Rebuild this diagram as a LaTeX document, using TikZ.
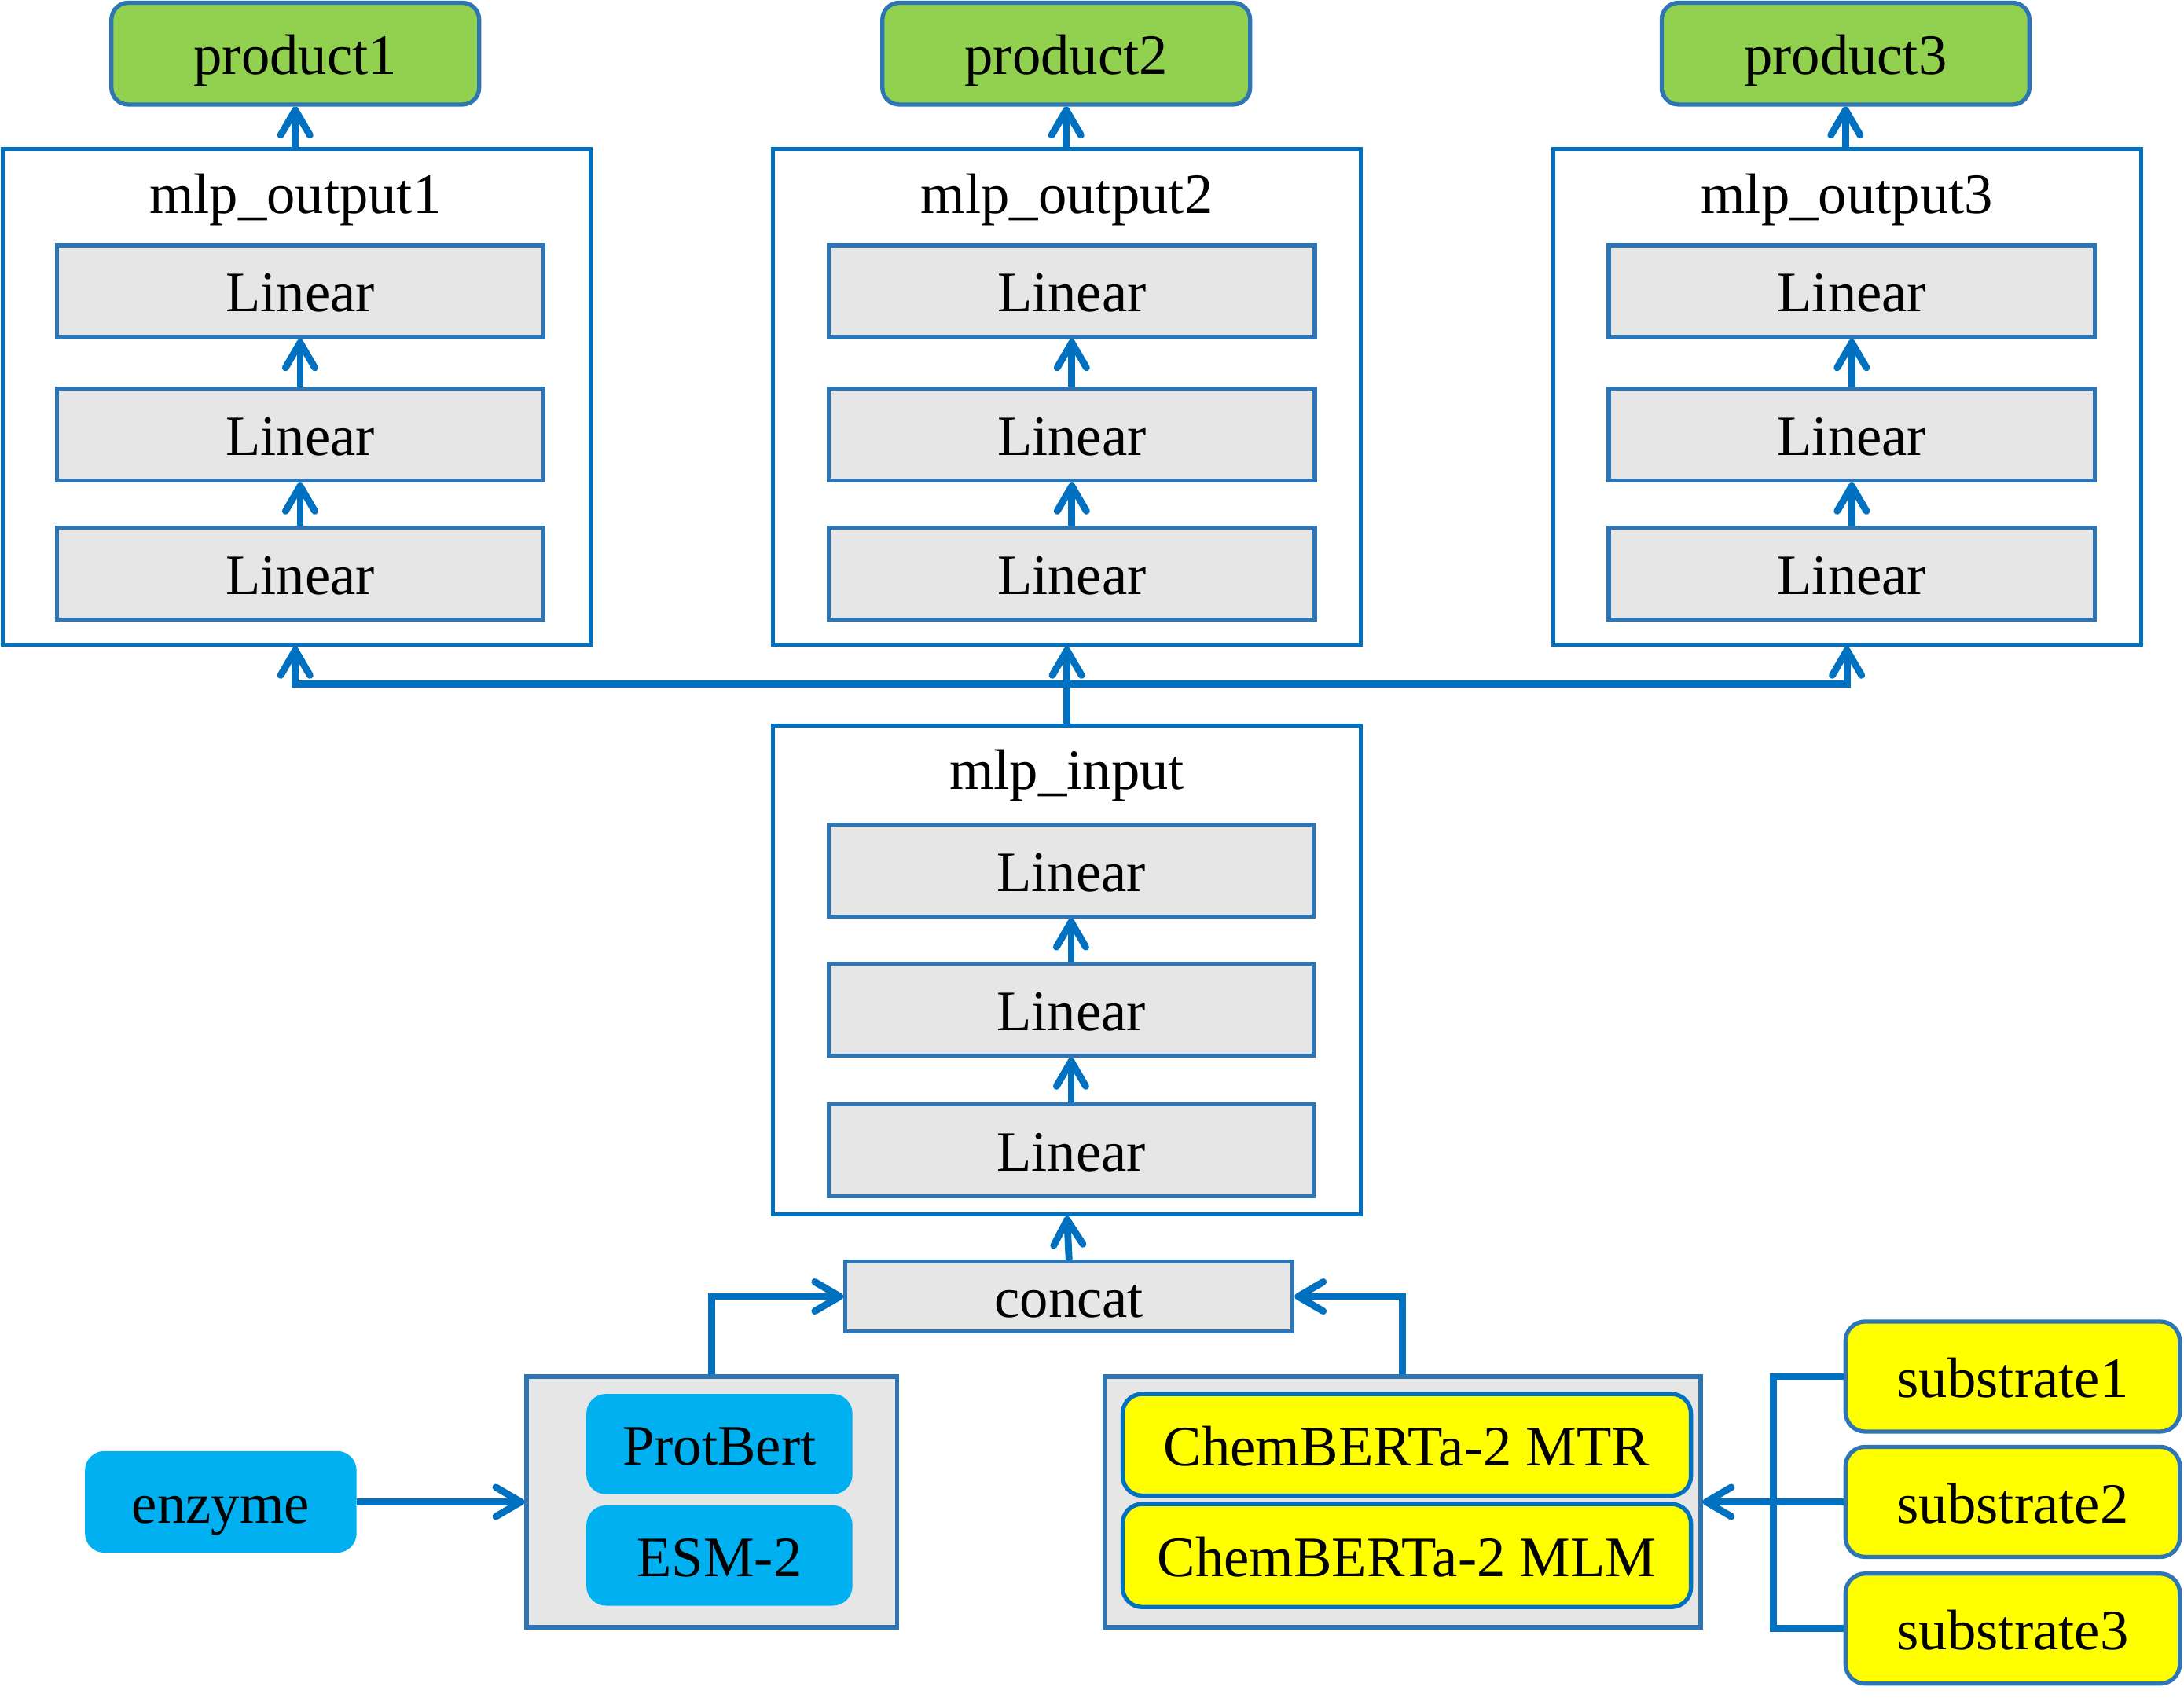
\documentclass[tikz,border=0pt]{standalone}
\usepackage{fontspec}
\setmainfont{Liberation Serif}
\usetikzlibrary{arrows.meta,calc}
\definecolor{cblue}{HTML}{0070C0}
\definecolor{bblue}{HTML}{2E75B6}
\definecolor{lgray}{HTML}{E6E6E6}
\definecolor{lgreen}{HTML}{92D050}
\definecolor{cyanb}{HTML}{00B0F0}
\definecolor{yel}{HTML}{FFFF00}
\begin{document}
\begin{tikzpicture}[x=0.5pt,y=-0.5pt,
  base/.style={inner sep=0pt, font=\fontsize{20.5}{24}\selectfont, text height=15pt, text depth=0pt, anchor=center},
  prod/.style={base, draw=bblue, line width=1.5pt, fill=lgreen, rounded corners=6pt, minimum width=132pt, minimum height=36.5pt},
  mlpbox/.style={base, draw=cblue, line width=1.4pt, fill=white, minimum width=211pt, minimum height=178pt},
  ttl/.style={base},
  lin/.style={base, draw=bblue, line width=1.5pt, fill=lgray, minimum width=174.5pt, minimum height=33pt},
  grp/.style={base, draw=bblue, line width=1.5pt, fill=lgray},
  cyb/.style={base, fill=cyanb, rounded corners=7pt},
  yb/.style={base, fill=yel, rounded corners=7pt, line width=1.5pt},
  conn/.style={draw=cblue, line width=2.5pt},
  arr/.style={conn, -{Straight Barb[length=9pt,width=10.5pt,round]}},
  darr/.style={conn, {Straight Barb[length=9pt,width=10.5pt,round]}-{Straight Barb[length=9pt,width=10.5pt,round]}}
]
\useasboundingbox (0,0) rectangle (1568,1219);

% products
\node[prod] (p1) at (212,38.5) {product1};
\node[prod] (p2) at (765.5,38.5) {product2};
\node[prod] (p3) at (1325,38.5) {product3};

% output MLPs
\node[mlpbox] (mo1) at (213,285) {};
\node[mlpbox] (mo2) at (766,285) {};
\node[mlpbox] (mo3) at (1326,285) {};
\node[ttl] (t1) at (212,138) {mlp\_output1};
\node[ttl] (t2) at (766,138) {mlp\_output2};
\node[ttl] (t3) at (1326,138) {mlp\_output3};

\node[lin] (a1) at (215.5,209) {Linear};
\node[lin] (a2) at (215.5,312) {Linear};
\node[lin] (a3) at (215.5,412) {Linear};
\node[lin] (b1) at (769.5,209) {Linear};
\node[lin] (b2) at (769.5,312) {Linear};
\node[lin] (b3) at (769.5,412) {Linear};
\node[lin] (c1) at (1329.5,209) {Linear};
\node[lin] (c2) at (1329.5,312) {Linear};
\node[lin] (c3) at (1329.5,412) {Linear};

% input MLP
\node[mlpbox, minimum height=175.5pt] (mi) at (766,696.5) {};
\node[ttl] (ti) at (766,552) {mlp\_input};
\node[lin, minimum width=174pt] (d1) at (769,625) {Linear};
\node[lin, minimum width=174pt] (d2) at (769,725) {Linear};
\node[lin, minimum width=174pt] (d3) at (769,826) {Linear};

% concat
\node[lin, minimum width=160.5pt, minimum height=25pt] (cc) at (767.5,931) {concat};

% left group
\node[grp, minimum width=133pt, minimum height=90pt] (lg) at (511,1078.5) {};
\node[cyb, minimum width=95.5pt, minimum height=36pt] (pb) at (516.5,1037) {ProtBert};
\node[cyb, minimum width=95.5pt, minimum height=36pt] (esm) at (516.5,1117) {ESM-2};
\node[cyb, minimum width=97.5pt, minimum height=36.5pt] (enz) at (158.5,1078.5) {enzyme};

% right group
\node[grp, minimum width=214pt, minimum height=90pt] (rg) at (1007,1078.5) {};
\node[yb, draw=cblue, minimum width=204pt, minimum height=36.5pt] (mtr) at (1010,1037.5) {ChemBERTa-2 MTR};
\node[yb, draw=cblue, minimum width=204pt, minimum height=37pt] (mlm) at (1010,1117) {ChemBERTa-2 MLM};

% substrates
\node[yb, draw=bblue, minimum width=120pt, minimum height=39.5pt] (s1) at (1445,988.5) {substrate1};
\node[yb, draw=bblue, minimum width=120pt, minimum height=39.5pt] (s2) at (1445,1078.5) {substrate2};
\node[yb, draw=bblue, minimum width=120pt, minimum height=39.5pt] (s3) at (1445,1169.5) {substrate3};

% connectors: output MLPs to products
\draw[arr] (mo1.north -| p1.south) -- (p1.south);
\draw[arr] (mo2.north -| p2.south) -- (p2.south);
\draw[arr] (mo3.north -| p3.south) -- (p3.south);

% linear stacks
\draw[arr] (a2.north) -- (a1.south);
\draw[arr] (a3.north) -- (a2.south);
\draw[arr] (b2.north) -- (b1.south);
\draw[arr] (b3.north) -- (b2.south);
\draw[arr] (c2.north) -- (c1.south);
\draw[arr] (c3.north) -- (c2.south);
\draw[arr] (d2.north) -- (d1.south);
\draw[arr] (d3.north) -- (d2.south);

% bus
\coordinate (bus) at (766,491);
\draw[arr] (mi.north) -- (mo2.south);
\draw[darr, line join=miter] ([xshift=-0.5pt]mo1.south) -- ([xshift=-0.5pt]mo1.south |- bus) -- (mo3.south |- bus) -- (mo3.south);

% concat to input
\draw[arr] (cc.north) -- (mi.south);
\draw[arr, line join=miter] (lg.north) |- (cc.west);
\draw[arr, line join=miter] (rg.north) |- (cc.east);

% enzyme
\draw[arr] (enz.east) -- (enz.east -| lg.west);

% substrates
\coordinate (br) at (1273,1078.5);
\draw[conn, line join=miter] (s1.west) -- (br |- s1.west) -- (br |- s3.west) -- (s3.west);
\draw[arr] (s2.west) -- (s2.west -| rg.east);
\end{tikzpicture}
\end{document}
